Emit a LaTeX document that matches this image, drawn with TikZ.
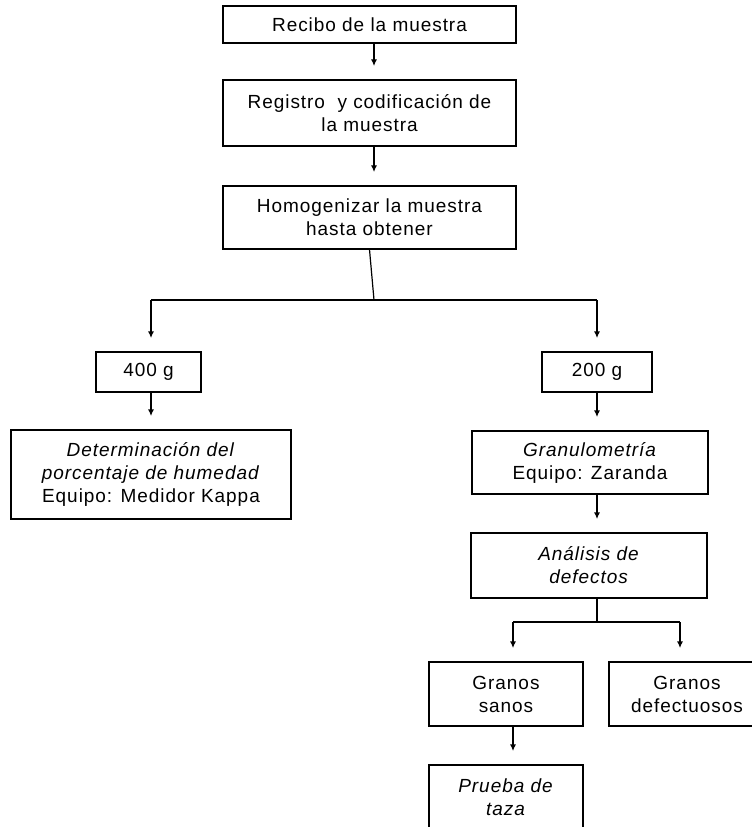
\documentclass[tikz,border=0pt]{standalone}
\usepackage{fontspec}
\setmainfont{Liberation Sans}[LetterSpace=5]
\usetikzlibrary{arrows.meta}

\begin{document}
\begin{tikzpicture}[x=0.75pt,y=-0.75pt,
    paso/.style ={rectangle, draw, line width=0.9pt, align=center, inner sep=0pt,
                  font=\fontsize{14.25}{17.25}\selectfont},
    linea/.style ={line width=0.9pt},
    flecha/.style ={line width=0.9pt, -{Latex[length=5pt,width=4.5pt]}, shorten >=10pt}]
   \clip (0,0) rectangle (752,827);
   \node[paso, minimum width=219.75pt, minimum height=27.75pt] (recibo) at (369.5,24.5) {Recibo de la muestra};
   \node[paso, minimum width=219.75pt, minimum height=49.5pt] (registro) at (369.5,113) {Registro~ y codificación de\\la muestra};
   \node[paso, minimum width=219.75pt, minimum height=47.25pt] (homog) at (369.5,217.5) {Homogenizar la muestra\\hasta obtener};
   \node[paso, minimum width=78.75pt, minimum height=30pt] (g400) at (148.5,372) {400 g};
   \node[paso, minimum width=82.5pt, minimum height=30pt] (g200) at (597,372) {200 g};
   \node[paso, minimum width=210pt, minimum height=66.75pt] (det) at (151,474.5)
        {\textit{Determinación del}\\\textit{porcentaje de humedad}\\Equipo: Medidor Kappa};
   \node[paso, minimum width=177pt, minimum height=47.25pt] (gran) at (590,462.5) {\textit{Granulometría}\\Equipo: Zaranda};
   \node[paso, minimum width=177pt, minimum height=48.75pt] (analisis) at (589,565.5) {\textit{Análisis de}\\\textit{defectos}};
   \node[paso, minimum width=115.5pt, minimum height=48pt] (sanos) at (506,694) {Granos\\sanos};
   \node[paso, minimum width=117pt, minimum height=48pt] (defect) at (687,694) {Granos\\defectuosos};
   \node[paso, minimum width=115.5pt, minimum height=48pt] (prueba) at (506,797) {\textit{Prueba de}\\\textit{taza}};
   \coordinate (split) at (374,300);
   \coordinate (izq) at (151,300);
   \coordinate (der) at (597,300);
   \coordinate (ramal) at (597,622);
   \coordinate (ri) at (513,622);
   \coordinate (rd) at (680,622);
   \draw[flecha] (recibo.south -| split) -- (registro.north -| split);
   \draw[flecha] (registro.south -| split) -- (homog.north -| split);
   \draw[linea] (homog.south) -- (split);
   \draw[linea] (izq) -- (der);
   \draw[flecha] (izq) -- (izq |- g400.north);
   \draw[flecha] (der) -- (der |- g200.north);
   \draw[flecha] (g400.south -| izq) -- (det.north -| izq);
   \draw[flecha] (g200.south) -- (gran.north -| g200.south);
   \draw[flecha] (gran.south -| der) -- (analisis.north -| der);
   \draw[linea] (analisis.south -| der) -- (ramal);
   \draw[linea] (ri) -- (rd);
   \draw[flecha] (ri) -- (ri |- sanos.north);
   \draw[flecha] (rd) -- (rd |- defect.north);
   \draw[flecha] (sanos.south -| ri) -- (prueba.north -| ri);
 \end{tikzpicture}
\end{document}
